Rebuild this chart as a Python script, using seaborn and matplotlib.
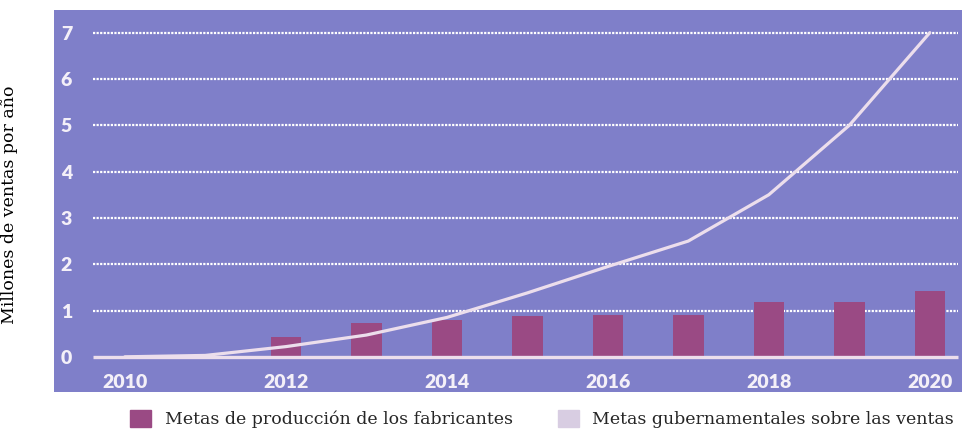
import matplotlib
matplotlib.use("Agg")
import matplotlib.pyplot as plt
import matplotlib.patches as mpatches
import seaborn as sns
import numpy as np

years = [2010, 2011, 2012, 2013, 2014, 2015, 2016, 2017, 2018, 2019, 2020]
fabricantes = [0.0, 0.0, 0.43, 0.72, 0.8, 0.88, 0.9, 0.9, 1.18, 1.18, 1.42]
gobierno = [0.0, 0.03, 0.22, 0.47, 0.85, 1.38, 1.95, 2.5, 3.5, 5.0, 7.0]
yticks = [0, 1, 2, 3, 4, 5, 6, 7]
xticks = [2010, 2012, 2014, 2016, 2018, 2020]
ylabel = "Millones de ventas por año"
labels = ["Metas de producción de los fabricantes", "Metas gubernamentales sobre las ventas"]

bg = "#7f7fc9"
bar_color = "#9a4a84"
line_color = "#ecdeec"
legend_light = "#d8cde2"

sns.set_style("white")
plt.rcParams["font.family"] = ["DejaVu Serif"]

fig = plt.figure(figsize=(9.64, 4.37), dpi=100)
ax = fig.add_axes([54 / 964, 1 - 392 / 437, 908 / 964, 382 / 437])
ax.set_facecolor(bg)

# dotted gridlines (start a bit right of the panel edge)
ax.hlines(yticks[1:], 2009.6, 2020.35, colors="white", linestyles=(0, (1, 0.6)),
          linewidth=1.6, zorder=1)

sns.barplot(x=years, y=fabricantes, native_scale=True, width=0.38,
            color=bar_color, saturation=1, linewidth=0, ax=ax, zorder=2)
ax.hlines([0], 2009.6, 2020.35, colors=line_color, linewidth=2.4, zorder=3)
sns.lineplot(x=years, y=gobierno, color=line_color, linewidth=2.3, ax=ax, zorder=4)

ax.set_xlim(2009.12, 2020.4)
ax.set_ylim(-0.76, 7.49)
ax.set_xticks(xticks)
ax.set_yticks(yticks)
ax.set_xticklabels([str(x) for x in xticks], family="Lato", fontweight="heavy",
                   fontsize=14, color="#f4f0f8")
ax.set_yticklabels([str(y) for y in yticks], family="Lato", fontweight="heavy",
                   fontsize=14, color="#f4f0f8")
ax.tick_params(axis="x", length=0, pad=-13)
ax.tick_params(axis="y", length=0, pad=-13)
for s in ax.spines.values():
    s.set_visible(False)
ax.set_xlabel("")

ax.set_ylabel(ylabel, fontsize=12.5, color="black")
ax.yaxis.set_label_coords(-0.040, 0.49)

handles = [mpatches.Patch(color=bar_color), mpatches.Patch(color=legend_light)]
fig.legend(handles, labels, loc="center", bbox_to_anchor=(542 / 964, 1 - 419 / 437),
           ncol=2, frameon=False, fontsize=12.5, handlelength=1.2, handleheight=1.2,
           handletextpad=0.8, columnspacing=2.6)

fig.savefig("out.png", dpi=100)
